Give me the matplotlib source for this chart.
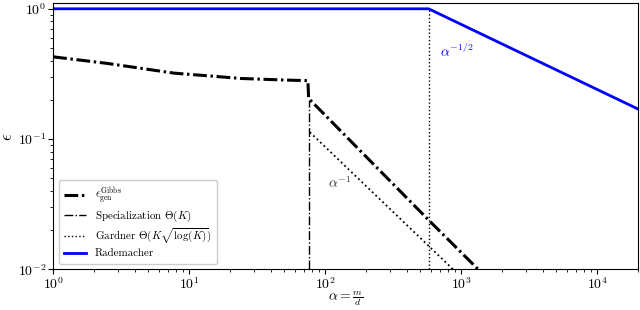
import numpy as np
import matplotlib
matplotlib.use("Agg")
import matplotlib.pyplot as plt

plt.rcParams["font.family"] = "serif"
plt.rcParams["font.serif"] = ["cmr10"]
plt.rcParams["mathtext.fontset"] = "cm"
plt.rcParams["axes.unicode_minus"] = False
plt.rcParams["axes.formatter.use_mathtext"] = True

# -----------------------
# Data
# -----------------------
gibbs_alpha = [1, 2.5, 7.7, 24, 50, 74.5, 75.5, 575, 1330]
gibbs_eps = [0.428, 0.381, 0.321, 0.292, 0.284, 0.281, 0.205, 0.0239, 0.01]

spec_alpha = [75.5, 75.5]
spec_eps = [0.01, 0.2]

gardner_alpha = [575, 575]
gardner_eps = [0.01, 1.0]

asym_alpha = [77, 870]
asym_eps = [0.113, 0.01]

rad_alpha = [1, 575, 20000]
rad_eps = [1.0, 1.0, 0.1696]

x_range = [1, 20000]
y_range = [0.01, 1.1]

# -----------------------
# Plot
# -----------------------
fig = plt.figure(figsize=(6.4, 3.1), dpi=100)
ax = fig.add_axes([0.083, 0.131, 0.9145, 0.858])

ax.plot(gibbs_alpha, gibbs_eps, color="black", lw=2.2, dashes=(4.5, 1.2, 0.8, 1.2),
        label=r"$\epsilon_{\rm gen}^{\rm Gibbs}$")
ax.plot(spec_alpha, spec_eps, color="black", lw=1.0, linestyle="-.",
        label=r"Specialization $\Theta(K)$")
ax.plot(gardner_alpha, gardner_eps, color="black", lw=1.0, linestyle=":",
        label=r"Gardner $\Theta(K\sqrt{\log(K)})$")
ax.plot(asym_alpha, asym_eps, color="black", lw=1.3, linestyle=":")
ax.plot(rad_alpha, rad_eps, color="blue", lw=2.0, label="Rademacher")

ax.text(105, 0.043, r"$\alpha^{-1}$", fontsize=10, color="#333333")
ax.text(700, 0.43, r"$\alpha^{-1/2}$", fontsize=10, color="blue")

ax.set_xscale("log")
ax.set_yscale("log")
ax.set_xlim(x_range)
ax.set_ylim(y_range)
ax.tick_params(labelsize=10, pad=1.5)
ax.set_xlabel(r"$\alpha = \frac{m}{d}$", fontsize=10)
ax.set_ylabel(r"$\epsilon$", fontsize=12)
ax.xaxis.set_label_coords(0.5, -0.076)
ax.yaxis.set_label_coords(-0.064, 0.5)

ax.legend(loc="lower left", fontsize=7.9, framealpha=1.0, edgecolor="#cccccc",
          labelspacing=0.25, borderpad=0.5)

fig.savefig("out.png", dpi=100)
